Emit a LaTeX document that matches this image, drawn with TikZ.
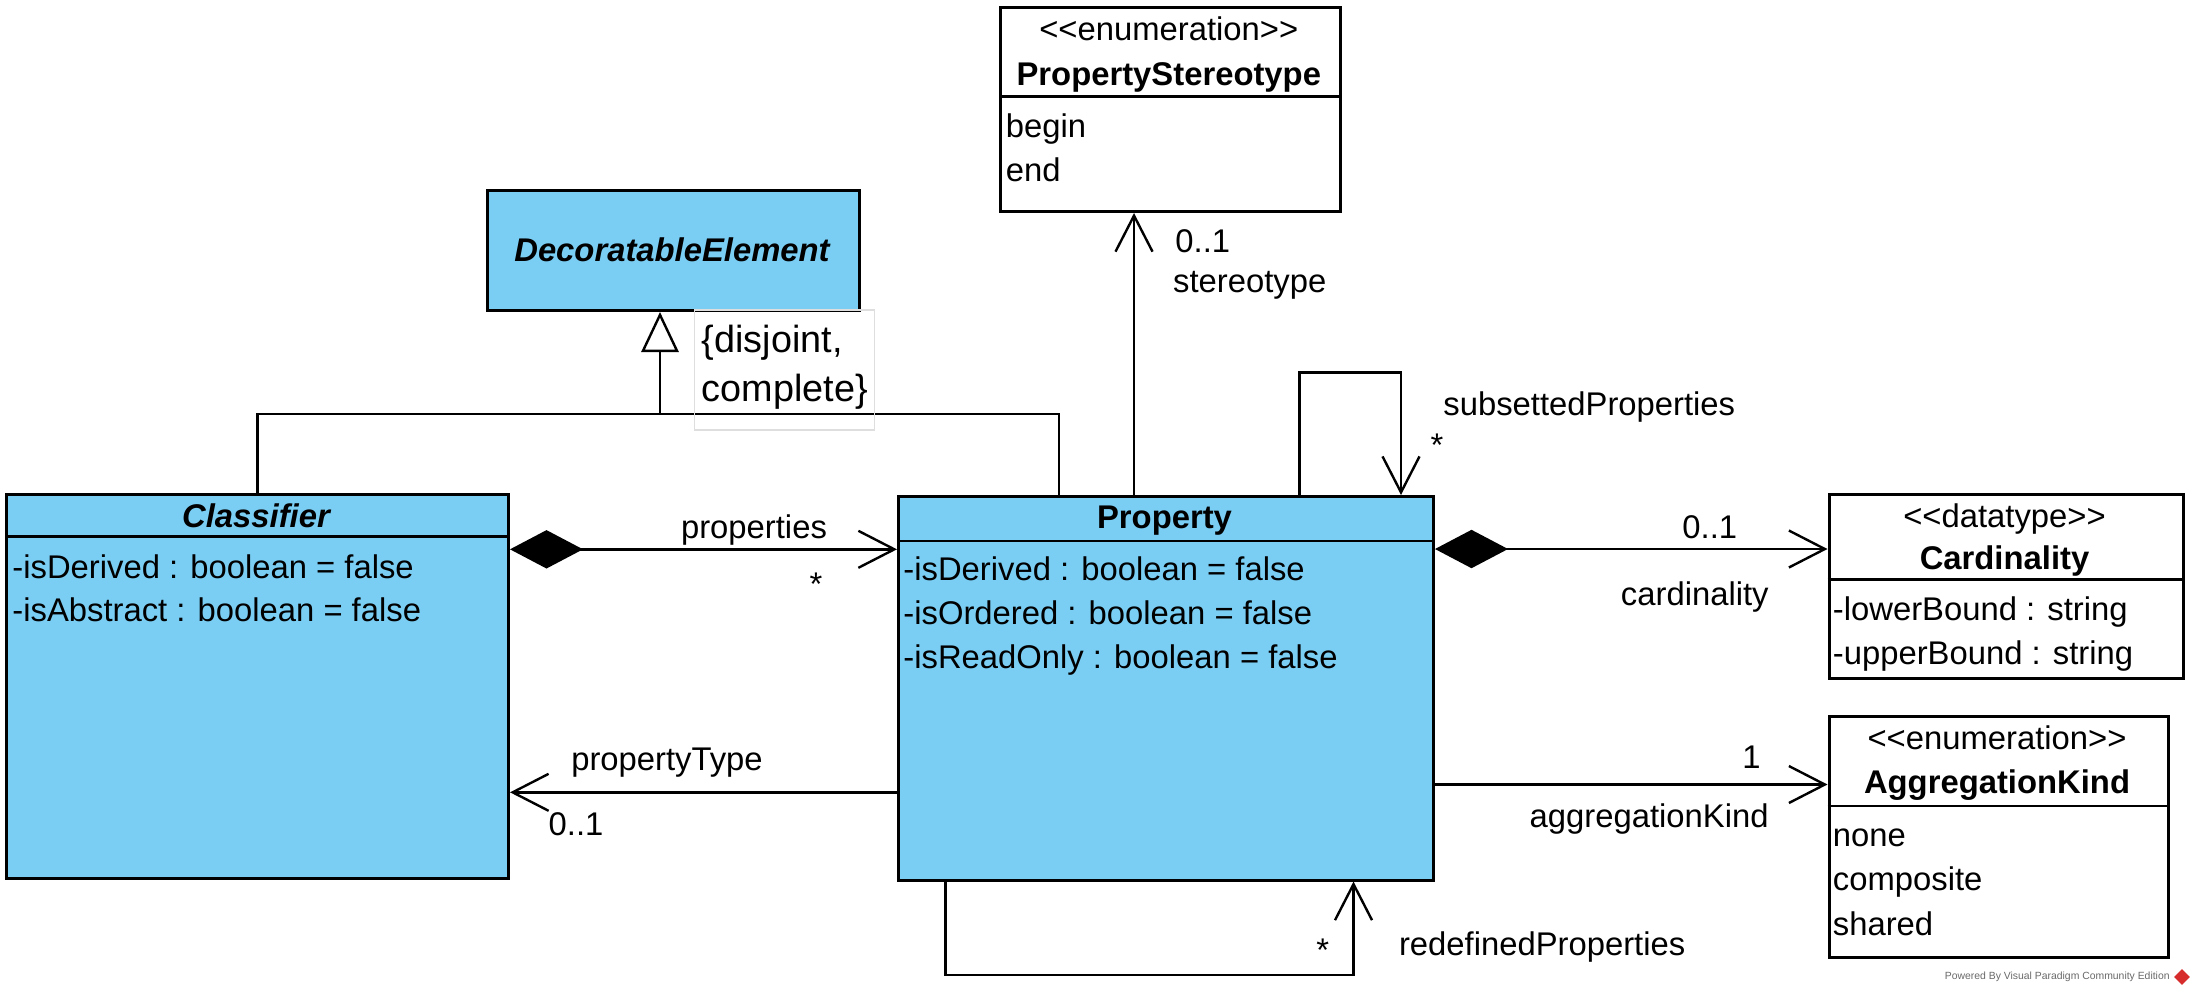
\documentclass[tikz,border=0pt]{standalone}
\usepackage{fontspec}
\setmainfont{Liberation Sans}[Ligatures=TeXOff]
\usetikzlibrary{arrows.meta,shapes.geometric}
\definecolor{classfill}{RGB}{122,206,244}
\definecolor{noteline}{RGB}{222,222,222}
\definecolor{wmgray}{RGB}{105,105,105}
\definecolor{vpred}{RGB}{214,44,44}

\begin{document}
\begin{tikzpicture}[x=0.5pt,y=-0.5pt,
  txt/.style={inner sep=0pt, font=\fontsize{16.4pt}{19.7pt}\selectfont,
    text height=11.74pt, text depth=3.44pt},
  ttl/.style={txt, font=\fontsize{16.4pt}{19.7pt}\selectfont\bfseries},
  ttlit/.style={txt, font=\fontsize{16.4pt}{19.7pt}\selectfont\bfseries\itshape},
  attr/.style={txt, anchor=west},
  constxt/.style={inner sep=0pt, anchor=west, font=\fontsize{18.9pt}{22pt}\selectfont,
    text height=13.53pt, text depth=3.97pt},
  umlbox/.style={draw, line width=1.5pt, anchor=north west, inner sep=0pt, fill=white},
  classbox/.style={umlbox, fill=classfill},
  divider/.style={line width=1.3pt},
  conn/.style={line width=1.2pt},
  nav/.style={conn, -{Straight Barb[length=18pt,width=18.5pt]}},
  comp/.style={conn, {Diamond[length=36.5pt,width=19.2pt]}-{Straight Barb[length=18pt,width=18.5pt]}},
  gen/.style={conn, -{Triangle[open,length=20pt,width=18.6pt,fill=white]}},
]
\useasboundingbox (0,0) rectangle (2193,993);

% ---------- classes ----------
\node[classbox, minimum width=186pt, minimum height=60pt] (dec) at (486,189) {};
\node[ttlit] (decT) at (672,253) {DecoratableElement};

\node[umlbox, minimum width=169.75pt, minimum height=102pt] (pst) at (999,6) {};
\draw[divider] (999,96.7) -- (1338.5,96.7);
\node[txt] (pstS) at (1168.8,32.5) {<<enumeration>>};
\node[ttl] (pstT) at (1168.8,77) {PropertyStereotype};
\node[attr] (pstA) at (1005.5,129.5) {begin};
\node[attr] (pstB) at (1005.5,173) {end};

\node[classbox, minimum width=251pt, minimum height=191.9pt] (cls) at (5,492.7) {};
\draw[divider] (5,536.7) -- (507,536.7);
\node[ttlit] (clsT) at (256,519) {Classifier};
\node[attr] (clsA) at (12,570) {-isDerived : boolean = false};
\node[attr] (clsB) at (12,613.5) {-isAbstract : boolean = false};

\node[classbox, minimum width=267.5pt, minimum height=191.75pt] (prop) at (897,495) {};
\draw[divider] (897,541) -- (1432,541);
\node[ttl] (propT) at (1164.5,520) {Property};
\node[attr] (propA) at (903,572) {-isDerived : boolean = false};
\node[attr] (propB) at (903,616) {-isOrdered : boolean = false};
\node[attr] (propC) at (903,660) {-isReadOnly : boolean = false};

\node[umlbox, minimum width=177pt, minimum height=92.25pt] (card) at (1827.5,492.5) {};
\draw[divider] (1827.5,579.5) -- (2181.5,579.5);
\node[txt] (cardS) at (2004.5,519) {<<datatype>>};
\node[ttl] (cardT) at (2004.5,561.5) {Cardinality};
\node[attr] (cardA) at (1832.5,612) {-lowerBound : string};
\node[attr] (cardB) at (1832.5,656) {-upperBound : string};

\node[umlbox, minimum width=169.5pt, minimum height=120.5pt] (agg) at (1827.5,715) {};
\draw[divider] (1827.5,806) -- (2166.5,806);
\node[txt] (aggS) at (1997,741) {<<enumeration>>};
\node[ttl] (aggT) at (1997,785.5) {AggregationKind};
\node[attr] (aggA) at (1832.5,838.5) {none};
\node[attr] (aggB) at (1832.5,882.5) {composite};
\node[attr] (aggC) at (1832.5,927) {shared};

% ---------- generalization set ----------
\coordinate (gj) at (660,414);
\coordinate (gr) at (1058.7,414);
\draw[conn] (cls.north) |- (gr) -- (gr |- prop.north);
\draw[gen] (gj) -- (gj |- dec.south);
\node[draw=noteline, line width=0.6pt, anchor=north west, inner sep=0pt,
  minimum width=90pt, minimum height=60pt] (cons) at (693.5,309.3) {};
\node[constxt] (consA) at (701.5,343) {\{disjoint,};
\node[constxt] (consB) at (701.5,391.7) {complete\}};

% ---------- associations ----------
\coordinate (yProps) at (0,549.3);
\draw[comp] (cls.east |- yProps) -- (prop.west |- yProps);
\node[txt] (lProps) at (754,530) {properties};
\node[txt] (mProps) at (816,587) {*};

\coordinate (xSt) at (1134,0);
\draw[nav] (xSt |- prop.north) -- (xSt |- pst.south);
\node[attr] (mSt) at (1175,244) {0..1};
\node[attr] (lSt) at (1172.8,284.5) {stereotype};

\coordinate (sL) at (1299.5,372.5);
\coordinate (sR) at (1401,372.5);
\draw[nav] (sL |- prop.north) -- (sL) -- (sR) -- (sR |- prop.north);
\node[attr] (lSub) at (1443,407.5) {subsettedProperties};
\node[txt] (mSub) at (1437,448.5) {*};

\coordinate (yCard) at (0,549);
\draw[comp] (prop.east |- yCard) -- (card.west |- yCard);
\node[txt, anchor=east] (mCard) at (1737.5,530) {0..1};
\node[txt, anchor=east] (lCard) at (1769,597) {cardinality};

\coordinate (yAgg) at (0,784.5);
\draw[nav] (prop.east |- yAgg) -- (agg.west |- yAgg);
\node[txt, anchor=east] (mAgg) at (1761,760) {1};
\node[txt, anchor=east] (lAgg) at (1769,819) {aggregationKind};

\coordinate (yType) at (0,792.3);
\draw[nav] (prop.west |- yType) -- (cls.east |- yType);
\node[txt] (lType) at (667,762.5) {propertyType};
\node[txt] (mType) at (576,827) {0..1};

\coordinate (rL) at (945.5,975);
\coordinate (rR) at (1353.5,975);
\draw[nav] (rL |- prop.south) -- (rL) -- (rR) -- (rR |- prop.south);
\node[txt] (mRed) at (1322.8,953) {*};
\node[attr] (lRed) at (1398.6,947.5) {redefinedProperties};

% ---------- footer ----------
\node[anchor=east, inner sep=0pt, text=wmgray, font=\fontsize{5.2pt}{6pt}\selectfont]
  (wm) at (2170,977) {Powered By Visual Paradigm Community Edition};
\node[diamond, fill=vpred, inner sep=0pt, minimum size=8pt] (vp) at (2182,977) {};
\end{tikzpicture}
\end{document}
